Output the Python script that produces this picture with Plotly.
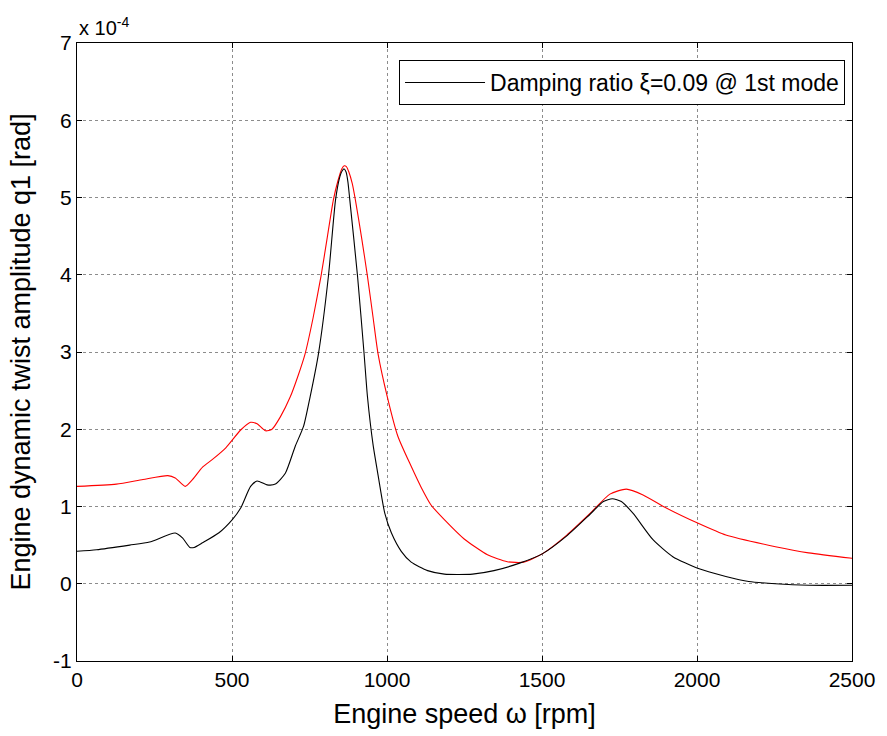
import plotly.graph_objects as go

# Engine speed samples [rpm] and twist amplitude [x 1e-4 rad]
rpm_black = [0, 63, 170, 234, 317, 341, 364, 378, 405, 458, 501, 528, 560, 581, 613, 640,
             672, 704, 731, 752, 779, 811, 834, 848, 856, 862, 868, 874, 880, 905, 926, 937,
             955, 971, 993, 1014, 1046, 1078, 1131, 1185, 1276, 1345, 1430, 1502, 1580, 1655,
             1698, 1727, 1756, 1794, 1858, 1922, 2002, 2093, 2167, 2253, 2360, 2500]
amp_black = [0.42, 0.44, 0.50, 0.54, 0.656, 0.59, 0.47, 0.47, 0.53, 0.66, 0.83, 0.98, 1.26,
             1.33, 1.28, 1.29, 1.43, 1.78, 2.04, 2.42, 2.98, 3.98, 4.97, 5.27, 5.35, 5.37,
             5.33, 5.20, 4.97, 3.98, 2.98, 2.42, 1.80, 1.41, 0.91, 0.66, 0.42, 0.28, 0.17,
             0.125, 0.125, 0.17, 0.27, 0.39, 0.62, 0.90, 1.065, 1.10, 1.065, 0.91, 0.57,
             0.35, 0.20, 0.095, 0.03, 0.0, -0.02, -0.02]

rpm_red = [0, 127, 213, 293, 317, 349, 373, 405, 437, 480, 528, 560, 581, 608, 629, 656,
           688, 712, 736, 762, 787, 808, 827, 842, 854, 862, 869, 877, 888, 898, 918, 937,
           955, 971, 1001, 1035, 1078, 1110, 1142, 1185, 1249, 1324, 1388, 1441, 1502,
           1580, 1655, 1719, 1772, 1826, 1901, 2002, 2093, 2253, 2360, 2500]
amp_red = [1.26, 1.29, 1.35, 1.40, 1.37, 1.26, 1.35, 1.51, 1.61, 1.76, 1.99, 2.09, 2.07,
           1.98, 2.00, 2.16, 2.42, 2.68, 2.98, 3.45, 3.98, 4.50, 4.97, 5.22, 5.37, 5.41,
           5.40, 5.33, 5.18, 4.97, 4.48, 3.98, 3.45, 2.98, 2.42, 1.91, 1.52, 1.25, 1.02,
           0.83, 0.58, 0.375, 0.285, 0.28, 0.39, 0.63, 0.91, 1.16, 1.225, 1.15, 0.98,
           0.785, 0.63, 0.48, 0.40, 0.33]

x_ticks = [0, 500, 1000, 1500, 2000, 2500]
y_ticks = [-1, 0, 1, 2, 3, 4, 5, 6, 7]

font_family = "Liberation Sans, Arial, sans-serif"

fig = go.Figure()
fig.add_trace(go.Scatter(x=rpm_red, y=amp_red, mode="lines", showlegend=False,
                         line=dict(color="#ff0000", width=1.1, shape="spline", smoothing=0.6)))
fig.add_trace(go.Scatter(x=rpm_black, y=amp_black, mode="lines",
                         name="Damping ratio \u03be=0.09 @ 1st mode",
                         line=dict(color="#000000", width=1.1, shape="spline", smoothing=0.6)))

axis_common = dict(
    showgrid=True, gridcolor="#8c8c8c", griddash="dot", gridwidth=1,
    showline=True, linecolor="black", linewidth=1.2, mirror="allticks",
    ticks="inside", ticklen=5, tickcolor="black", zeroline=False,
    tickfont=dict(size=21, color="black", family=font_family),
)

fig.update_xaxes(range=[0, 2500], tickvals=x_ticks, ticktext=[str(v) for v in x_ticks],
                 title=dict(text="Engine speed \u03c9 [rpm]", font=dict(size=27, color="black"),
                            standoff=13),
                 **axis_common)
fig.update_yaxes(range=[-1, 7], tickvals=y_ticks, ticktext=[str(v) for v in y_ticks],
                 title=dict(text="Engine dynamic twist amplitude q1 [rad]",
                            font=dict(size=27, color="black"), standoff=14),
                 **axis_common)

fig.add_annotation(xref="paper", yref="paper", x=0, y=1.003, xanchor="left", yanchor="bottom",
                   text="x 10<sup>-4</sup>", showarrow=False,
                   font=dict(size=20, color="black", family=font_family))

fig.update_layout(
    width=887, height=736,
    margin=dict(l=77, r=30, t=43, b=75),
    paper_bgcolor="white", plot_bgcolor="white",
    font=dict(family=font_family, color="black"),
    legend=dict(x=0.991, y=0.9725, xanchor="right", yanchor="top",
                bgcolor="white", bordercolor="black", borderwidth=1, itemwidth=80,
                font=dict(size=23, color="black", family=font_family)),
)

fig.write_html("out.html")
